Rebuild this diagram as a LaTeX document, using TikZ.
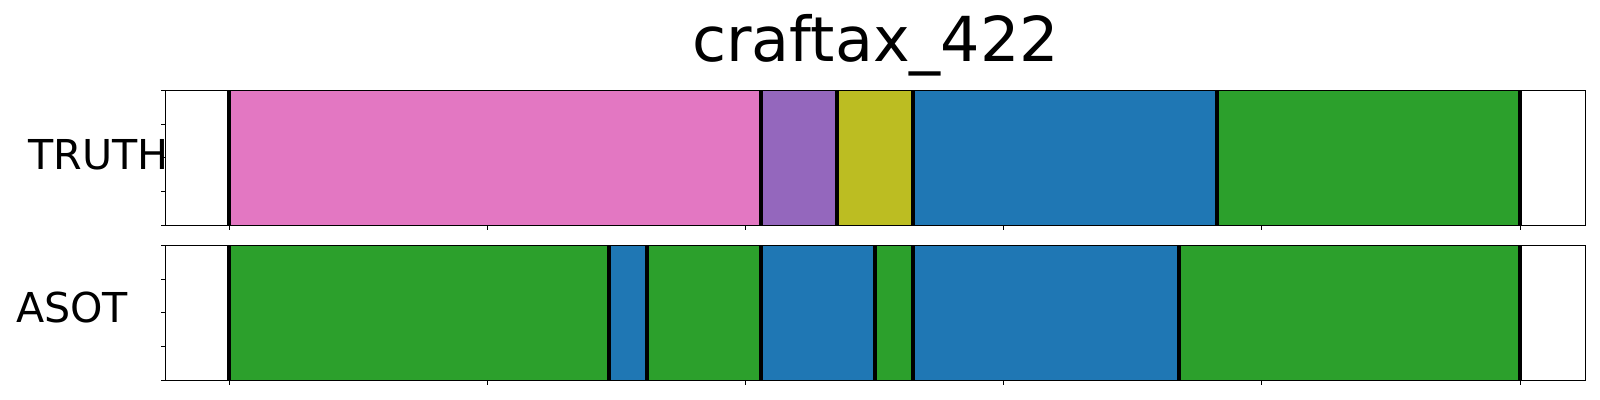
\documentclass[tikz,border=0pt]{standalone}
\usepackage{fontspec}
\setmainfont{DejaVu Sans}
\definecolor{tpink}{HTML}{E377C2}
\definecolor{tpurple}{HTML}{9467BD}
\definecolor{tolive}{HTML}{BCBD22}
\definecolor{tblue}{HTML}{1F77B4}
\definecolor{tgreen}{HTML}{2CA02C}
\tikzset{
  seg/.style={fill=#1, draw=none},
  bound/.style={line width=2pt, black},
  frame/.style={line width=0.65pt, black},
  tickmark/.style={line width=0.5pt, black},
  titletext/.style={font=\fontsize{31}{36}\selectfont, inner sep=0pt, anchor=base},
  labeltext/.style={font=\fontsize{20.6}{25}\selectfont, inner sep=0pt, anchor=base west},
}
\begin{document}
\begin{tikzpicture}[x=0.5pt,y=-0.5pt]
\fill[white] (0,0) rectangle (1600,400);
\useasboundingbox (0,0) rectangle (1600,400);
% title
\node[titletext] (title) at (875.7,61.7) {craftax\_422};
% labels
\node[labeltext] (truth) at (28.3,170) {TRUTH};
\node[labeltext] (asot) at (15.7,322.7) {ASOT};
% TRUTH segments
\foreach \a/\b/\c in {229/761/tpink, 761/836.7/tpurple, 836.7/913/tolive, 913/1217/tblue, 1217/1520/tgreen}
  \fill[seg=\c] (\a,90.3) rectangle (\b,225.3);
\foreach \x in {229,761,836.7,913,1217,1520}
  \draw[bound] (\x,90.3) -- (\x,225.3);
% ASOT segments
\foreach \a/\b/\c in {229/608.7/tgreen, 608.7/647/tblue, 647/761/tgreen, 761/874.7/tblue, 874.7/913.3/tgreen, 913.3/1179/tblue, 1179/1520/tgreen}
  \fill[seg=\c] (\a,245.3) rectangle (\b,380.3);
\foreach \x in {229,608.7,647,761,874.7,913.3,1179,1520}
  \draw[bound] (\x,245.3) -- (\x,380.3);
% frames
\draw[frame] (165.7,90.3) rectangle (1585.7,225.3);
\draw[frame] (165.7,245.3) rectangle (1585.7,380.3);
% ticks
\foreach \t in {0,...,4} {
  \draw[tickmark] (165.7,{90.3+33.75*\t}) -- ++(-5,0);
  \draw[tickmark] (165.7,{245.3+33.75*\t}) -- ++(-5,0);
}
\foreach \t in {0,...,5} {
  \draw[tickmark] ({229+258.2*\t},225.3) -- ++(0,5);
  \draw[tickmark] ({229+258.2*\t},380.3) -- ++(0,5);
}
\end{tikzpicture}
\end{document}
